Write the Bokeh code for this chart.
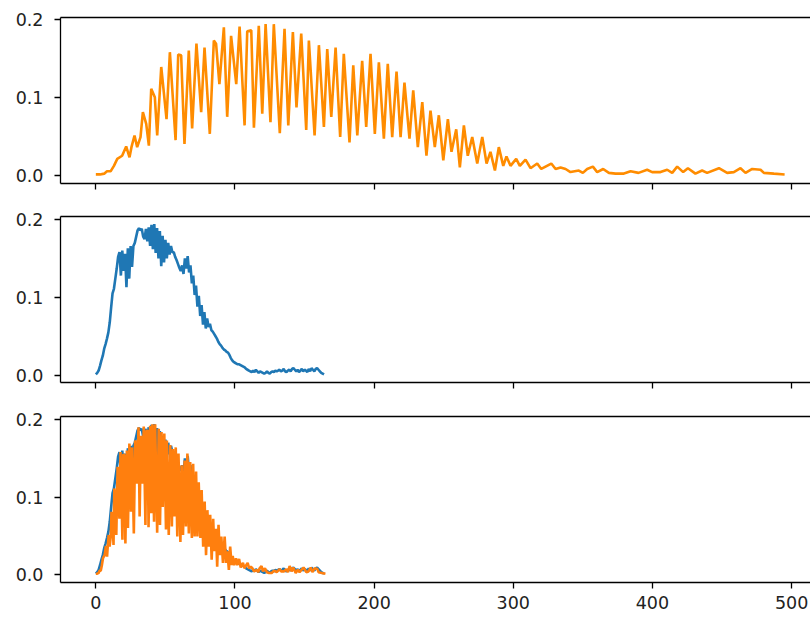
from bokeh.plotting import figure
from bokeh.layouts import column
from bokeh.models import Range1d, FixedTicker, PrintfTickFormatter, LinearAxis
from bokeh.embed import file_html
from bokeh.resources import INLINE

# ---------------- data ----------------
# orange signal, sample index / value (vertices of the trace)
orange_x = [0, 3, 6, 8, 10.6, 13, 15.4, 18.9, 21.8, 24.2, 25.6, 27.8, 29.7, 32.1,
            33.8, 36.2, 38.1, 39.8, 42.4, 44.1, 47.0, 50.8, 53.2, 57.3, 59.2, 61.3,
            63.7, 66.8, 69.2, 72.3, 75.7, 78.1, 81.9, 84.8, 86.4, 88.8, 92.0, 94.4,
            97.2, 100.9, 103.3, 106.9, 108.8, 111.7, 113.6, 117.1, 119.6, 122.0,
            125.5, 127.9, 132.2, 135.6, 138.3, 141.6, 144.2, 147.6, 151.2, 153.1,
            157.2, 160.3, 163.9, 166.3, 169.2, 172.3, 175.6, 178.2, 182.3, 185.0,
            187.9, 191.4, 194.3, 197.4, 200.5, 203.4, 207.0, 209.8, 213.0, 216.1,
            219.0, 221.8, 225.4, 228.1, 231.4, 234.6, 237.6, 240.5, 243.6, 246.5,
            249.7, 253.0, 255.6, 259.0, 261.6, 264.5, 267.3, 270.5, 274.1, 277.7,
            280.8, 283.6, 286.8, 289.6, 292.8, 295.1, 298.0, 302.1, 304.7, 308.8,
            312.4, 317.2, 320.1, 327.3, 330.4, 334.0, 337.6, 341.1, 347.1, 350,
            353.1, 357.2, 360.3, 364.6, 368.7, 373.5, 379, 384.3, 390, 396.2, 399.8,
            405.8, 410.6, 414.2, 417.8, 422.1, 425.5, 430.9, 435.7, 439.3, 447.8,
            453.7, 458.5, 463.3, 466.9, 471.7, 477.7, 480.1, 487.3, 495]
orange_y = [0.001, 0.001, 0.002, 0.005, 0.005, 0.012, 0.021, 0.025, 0.037, 0.023,
            0.036, 0.051, 0.036, 0.049, 0.081, 0.066, 0.038, 0.111, 0.100, 0.051,
            0.139, 0.072, 0.158, 0.045, 0.155, 0.154, 0.040, 0.160, 0.060, 0.169,
            0.081, 0.164, 0.053, 0.173, 0.169, 0.117, 0.190, 0.075, 0.179, 0.117,
            0.191, 0.064, 0.185, 0.186, 0.061, 0.192, 0.079, 0.194, 0.068, 0.194,
            0.054, 0.188, 0.064, 0.184, 0.087, 0.182, 0.058, 0.173, 0.051, 0.167,
            0.062, 0.162, 0.075, 0.164, 0.049, 0.156, 0.042, 0.141, 0.051, 0.147,
            0.062, 0.156, 0.053, 0.145, 0.047, 0.143, 0.049, 0.133, 0.049, 0.119,
            0.047, 0.109, 0.036, 0.094, 0.025, 0.083, 0.036, 0.077, 0.019, 0.072,
            0.030, 0.059, 0.010, 0.064, 0.025, 0.049, 0.015, 0.049, 0.015, 0.030,
            0.006, 0.036, 0.012, 0.024, 0.012, 0.021, 0.012, 0.020, 0.009, 0.015,
            0.008, 0.015, 0.008, 0.010, 0.008, 0.004, 0.006, 0.003, 0.008, 0.011,
            0.004, 0.008, 0.003, 0.002, 0.002, 0.005, 0.003, 0.007, 0.004, 0.004,
            0.007, 0.003, 0.011, 0.004, 0.009, 0.002, 0.006, 0.003, 0.009, 0.003,
            0.004, 0.009, 0.003, 0.008, 0.007, 0.003, 0.002, 0.001]

# blue signal, one value per time unit
blue_y = [0.001, 0.003, 0.006, 0.012, 0.019, 0.025, 0.034, 0.040, 0.047, 0.055,
          0.068, 0.087, 0.105, 0.111, 0.124, 0.137, 0.152, 0.158, 0.128, 0.160,
          0.134, 0.156, 0.113, 0.163, 0.124, 0.166, 0.139, 0.166, 0.170, 0.178,
          0.186, 0.189, 0.186, 0.188, 0.178, 0.175, 0.188, 0.172, 0.190, 0.166,
          0.193, 0.162, 0.194, 0.157, 0.189, 0.150, 0.185, 0.140, 0.179, 0.145,
          0.174, 0.150, 0.170, 0.155, 0.166, 0.158, 0.158, 0.152, 0.148, 0.143,
          0.138, 0.134, 0.141, 0.130, 0.150, 0.137, 0.153, 0.132, 0.141, 0.118,
          0.128, 0.103, 0.115, 0.088, 0.102, 0.076, 0.090, 0.065, 0.081, 0.060,
          0.073, 0.062, 0.066, 0.058, 0.056, 0.053, 0.050, 0.047, 0.043, 0.040,
          0.038, 0.035, 0.033, 0.032, 0.030, 0.029, 0.026, 0.022, 0.019, 0.017,
          0.016, 0.015, 0.014, 0.014, 0.013, 0.012, 0.011, 0.010, 0.008, 0.007,
          0.006, 0.005, 0.004, 0.006, 0.004, 0.007, 0.005, 0.003, 0.005, 0.004,
          0.003, 0.002, 0.003, 0.005, 0.003, 0.002, 0.004, 0.005, 0.004, 0.006,
          0.005, 0.006, 0.007, 0.005, 0.006, 0.008, 0.005, 0.004, 0.006, 0.007,
          0.005, 0.008, 0.009, 0.007, 0.005, 0.007, 0.004, 0.006, 0.008, 0.005,
          0.007, 0.006, 0.004, 0.008, 0.005, 0.009, 0.007, 0.005, 0.008, 0.009,
          0.007, 0.005, 0.003, 0.002, 0.001]
blue_t = list(range(len(blue_y)))

# the orange signal on the time axis of the lower panel (3 samples per unit)
orange_t = [v / 3 for v in orange_x]

x_ticks = [0, 100, 200, 300, 400, 500]
y_ticks = [0.0, 0.1, 0.2]

FONT = "DejaVu Sans"
TXT = "#222222"
FSIZE = "17.5px"

x_range = Range1d(-25.4, 513.6)


def style_axis(ax):
    ax.axis_line_color = "black"
    ax.axis_line_width = 1.3
    ax.major_tick_line_color = "black"
    ax.major_tick_line_width = 1.3
    ax.major_tick_out = 6
    ax.major_tick_in = 0
    ax.minor_tick_line_color = None
    ax.major_label_text_font = FONT
    ax.major_label_text_font_size = FSIZE
    ax.major_label_text_color = TXT


def make_fig(height, top, bottom, y0, y1, show_x_labels):
    p = figure(width=810, height=height, output_backend="svg",
               toolbar_location=None, x_range=x_range,
               y_range=Range1d(y0, y1),
               min_border_left=60, min_border_right=0,
               min_border_top=top, min_border_bottom=bottom,
               x_axis_type=None, y_axis_type=None)
    p.outline_line_color = None
    p.background_fill_color = "white"
    p.border_fill_color = "white"

    xa = LinearAxis(ticker=FixedTicker(ticks=x_ticks),
                    formatter=PrintfTickFormatter(format="%d"))
    ya = LinearAxis(ticker=FixedTicker(ticks=y_ticks),
                    formatter=PrintfTickFormatter(format="%.1f"))
    top_ax = LinearAxis(ticker=FixedTicker(ticks=[]))
    for ax in (xa, ya, top_ax):
        style_axis(ax)
    xa.major_label_standoff = 7
    ya.major_label_standoff = 11
    if not show_x_labels:
        # tick marks only: labels not drawn
        xa.major_label_text_color = None
        xa.major_label_text_font_size = "1px"
        xa.major_label_standoff = 0
    top_ax.major_label_text_color = None
    top_ax.major_label_text_font_size = "1px"
    top_ax.major_label_standoff = 0
    top_ax.major_tick_out = 0
    p.add_layout(xa, "below")
    p.add_layout(ya, "left")
    p.add_layout(top_ax, "above")
    p.xgrid.visible = False
    p.ygrid.visible = False
    return p


p1 = make_fig(199, 17, 16, -0.01066, 0.20257, False)
p1.line(orange_x, orange_y, line_color="#ff8c00", line_width=2.6)

p2 = make_fig(200, 17, 17, -0.00938, 0.20385, False)
p2.line(blue_t, blue_y, line_color="#1f77b4", line_width=2.6)

p3 = make_fig(221, 17, 38, -0.01032, 0.20387, True)
p3.line(blue_t, blue_y, line_color="#1f77b4", line_width=2.6)
p3.line(orange_t, orange_y, line_color="#ff7f0e", line_width=2.6)

layout = column(p1, p2, p3, spacing=0)
layout.margin = 0

open("out.html", "w").write(file_html(layout, INLINE))
